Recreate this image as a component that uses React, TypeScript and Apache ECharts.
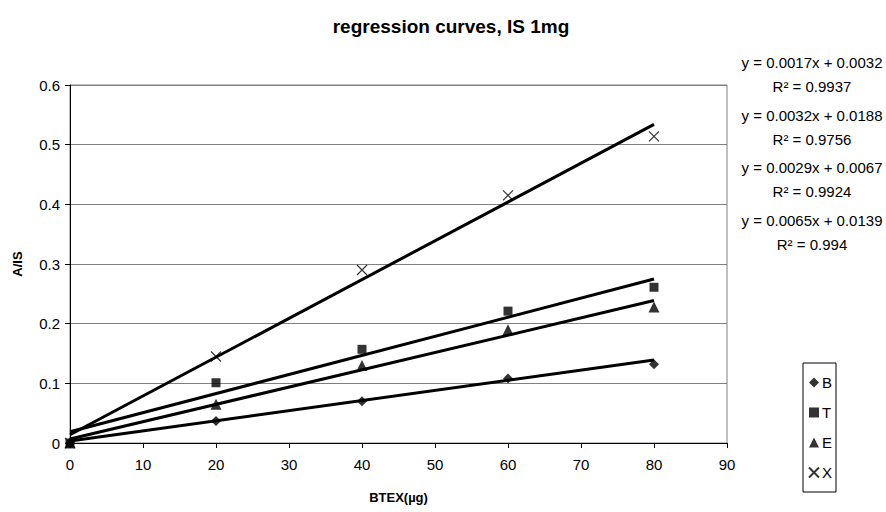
import React, { useEffect, useRef } from "react";
import * as echarts from "echarts";

const xValues = [0, 20, 40, 60, 80];
const seriesNames = ["B", "T", "E", "X"];
const bValues = [0, 0.037, 0.07, 0.108, 0.132];
const tValues = [0, 0.101, 0.157, 0.221, 0.261];
const eValues = [0, 0.065, 0.13, 0.19, 0.228];
const xSeriesValues = [0, 0.145, 0.29, 0.415, 0.514];
const slopes = [0.0017, 0.0032, 0.0029, 0.0065];
const intercepts = [0.0032, 0.0188, 0.0067, 0.0139];
const rSquared = ["0.9937", "0.9756", "0.9924", "0.994"];
const trendRange = [0, 80];
const xTicks = { min: 0, max: 90, interval: 10 };
const yTicks = { min: 0, max: 0.6, interval: 0.1 };

const FONT = "'Liberation Sans', Arial, sans-serif";

export default function App() {
  const ref = useRef<HTMLDivElement>(null);
  useEffect(() => {
    if (!ref.current) return;
    const chart = echarts.init(ref.current, undefined, { renderer: "svg" });
    const allValues = [bValues, tValues, eValues, xSeriesValues];
    const symbols = [
      "diamond",
      "rect",
      "triangle",
      "path://M0,0 L10,10 M10,0 L0,10",
    ];
    const sizes = [10, 9, 11, 10];
    const scatterSeries = seriesNames.map((name, i) => ({
      name,
      type: "scatter",
      data: xValues.map((x, j) => [x, allValues[i][j]]),
      symbol: symbols[i],
      symbolSize: sizes[i],
      z: 3,
      itemStyle:
        i === 3
          ? { color: "rgba(0,0,0,0)", borderColor: "#000", borderWidth: 1.2 }
          : { color: "#000" },
    }));
    const trendSeries = slopes.map((m, i) => ({
      name: "trend" + i,
      type: "line",
      data: trendRange.map((x) => [x, m * x + intercepts[i]]),
      symbol: "none",
      silent: true,
      z: 4,
      lineStyle: { color: "#000", width: 3 },
    }));
    const eqY = [62, 115, 167, 220];
    const graphics: any[] = [];
    slopes.forEach((m, i) => {
      graphics.push({
        type: "text",
        x: 812,
        y: eqY[i],
        style: {
          text: `y = ${m.toFixed(4)}x + ${intercepts[i].toFixed(4)}`,
          fontSize: 15,
          fontFamily: FONT,
          fill: "#000",
          textAlign: "center",
          textVerticalAlign: "middle",
        },
      });
      graphics.push({
        type: "text",
        x: 812,
        y: eqY[i] + 24,
        style: {
          text: `R² = ${rSquared[i]}`,
          fontSize: 15,
          fontFamily: FONT,
          fill: "#000",
          textAlign: "center",
          textVerticalAlign: "middle",
        },
      });
    });
    chart.setOption({
      animation: false,
      backgroundColor: "#fff",
      textStyle: { fontFamily: FONT },
      title: {
        text: "regression curves, IS 1mg",
        left: 446,
        top: 12,
        textAlign: "center",
        textStyle: { fontSize: 19, fontWeight: "bold", color: "#000", fontFamily: FONT },
      },
      grid: {
        left: 70,
        top: 85,
        right: 159,
        bottom: 69,
        show: true,
        borderColor: "#808080",
        borderWidth: 1,
      },
      legend: {
        data: seriesNames,
        orient: "vertical",
        left: 803,
        top: 363,
        borderColor: "#000",
        borderWidth: 1,
        padding: [12, 4, 12, 5],
        itemWidth: 10,
        itemHeight: 10,
        itemGap: 15,
        textStyle: { fontSize: 15, color: "#000", fontFamily: FONT, padding: [0, 0, 0, -2] },
      },
      xAxis: {
        type: "value",
        min: xTicks.min,
        max: xTicks.max,
        interval: xTicks.interval,
        name: "BTEX(µg)",
        nameLocation: "middle",
        nameGap: 48,
        nameTextStyle: { fontSize: 13, fontWeight: "bold", color: "#000", fontFamily: FONT },
        axisLine: { show: true, onZero: false, lineStyle: { color: "#000", width: 1 } },
        axisTick: { show: true, length: 5, lineStyle: { color: "#000" } },
        axisLabel: { fontSize: 15, color: "#000", margin: 14, fontFamily: FONT },
        splitLine: { show: false },
      },
      yAxis: {
        type: "value",
        min: yTicks.min,
        max: yTicks.max,
        interval: yTicks.interval,
        name: "A/IS",
        nameLocation: "middle",
        nameGap: 46,
        nameRotate: 90,
        nameTextStyle: { fontSize: 13, fontWeight: "bold", color: "#000", fontFamily: FONT },
        axisLine: { show: true, lineStyle: { color: "#000", width: 1 } },
        axisTick: { show: true, length: 5, lineStyle: { color: "#000" } },
        axisLabel: {
          fontSize: 15,
          color: "#000",
          margin: 10,
          fontFamily: FONT,
          formatter: (v: number) => String(+v.toFixed(1)),
        },
        splitLine: { show: true, lineStyle: { color: "#808080", width: 1 } },
      },
      series: [...trendSeries, ...scatterSeries],
      graphic: graphics,
    });
    return () => chart.dispose();
  }, []);
  return (
    <div
      ref={ref}
      style={{ position: "fixed", left: 0, top: 0, width: 886, height: 512 }}
    />
  );
}
